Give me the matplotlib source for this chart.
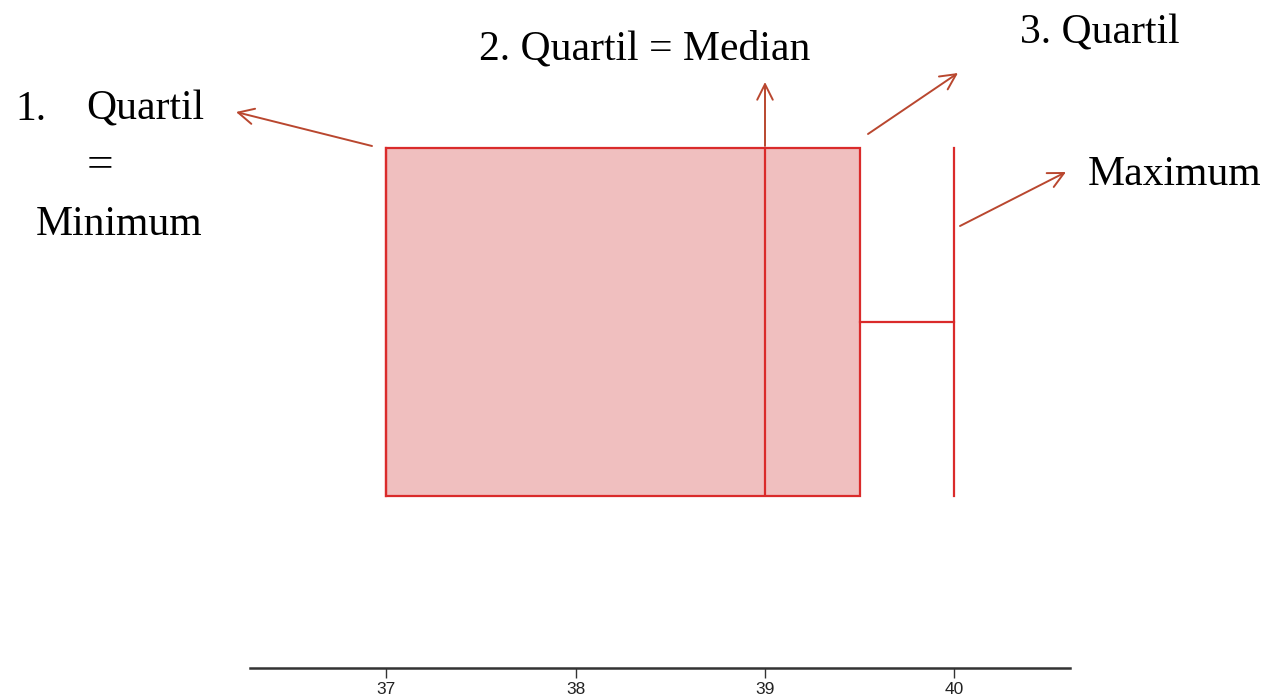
import matplotlib.pyplot as plt

# Box plot summary values
q1 = 37.0
median = 39.0
q3 = 39.5
minimum = 37.0
maximum = 40.0
tick_values = [37, 38, 39, 40]
tick_labels = ["37", "38", "39", "40"]

box_face = "#F0BFBF"
box_edge = "#DA2B2B"
arrow_color = "#B9472F"

fig = plt.figure(figsize=(12.68, 6.97), dpi=100)
fig.patch.set_facecolor("white")

# axes placed so the bottom spine sits where the reference axis line is
ax = fig.add_axes([250 / 1268, 29 / 697, 820 / 1268, 668 / 697])
ax.set_xlim(36.28, 40.61)
ax.set_ylim(-(668 - 322) / 348, 322 / 348)

stats = [{"med": median, "q1": q1, "q3": q3, "whislo": minimum, "whishi": maximum}]
ax.bxp(stats, positions=[0], widths=1.0, capwidths=1.0, vert=False,
       showfliers=False, patch_artist=True,
       boxprops=dict(facecolor=box_face, edgecolor=box_edge, linewidth=1.6),
       medianprops=dict(color=box_edge, linewidth=1.6),
       whiskerprops=dict(color=box_edge, linewidth=1.6),
       capprops=dict(color=box_edge, linewidth=1.6))

for side in ["top", "left", "right"]:
    ax.spines[side].set_visible(False)
ax.spines["bottom"].set_linewidth(1.8)
ax.spines["bottom"].set_color("#333333")
ax.set_yticks([])
ax.set_xticks(tick_values)
ax.set_xticklabels(tick_labels, fontfamily="Liberation Sans", fontsize=12.5,
                   color="#222222")
ax.tick_params(axis="x", length=7, width=1.0, color="#333333", pad=3)

# annotation texts (figure pixels, origin bottom-left)
H = 697
serif = "Liberation Serif"
fs = 30
fig.text(15 / 1268, (H - 120) / H, "1.", fontsize=fs, family=serif, va="baseline")
fig.text(86 / 1268, (H - 120) / H, "Quartil", fontsize=fs, family=serif, va="baseline")
fig.text(100 / 1268, (H - 166) / H, "=", fontsize=fs + 4, family=serif, ha="center", va="center")
fig.text(119 / 1268, (H - 235) / H, "Minimum", fontsize=fs, family=serif, ha="center", va="baseline")
fig.text(645 / 1268, (H - 60) / H, "2. Quartil = Median", fontsize=fs, family=serif,
         ha="center", va="baseline")
fig.text(1100 / 1268, (H - 43) / H, "3. Quartil", fontsize=fs, family=serif,
         ha="center", va="baseline")
fig.text(1175 / 1268, (H - 185) / H, "Maximum", fontsize=fs, family=serif,
         ha="center", va="baseline")

# arrows: (tail, head) in image pixels
arrows = [
    ((372, 146), (236, 112)),
    ((765, 146), (765, 82)),
    ((868, 134), (958, 73)),
    ((960, 226), (1066, 172)),
]
for (tx, ty), (hx, hy) in arrows:
    ax.annotate("", xy=(hx, H - hy), xytext=(tx, H - ty),
                xycoords="figure pixels", textcoords="figure pixels",
                arrowprops=dict(arrowstyle="->", color=arrow_color, lw=1.4,
                                mutation_scale=28, shrinkA=0, shrinkB=0))

fig.savefig("out.png", dpi=100)
